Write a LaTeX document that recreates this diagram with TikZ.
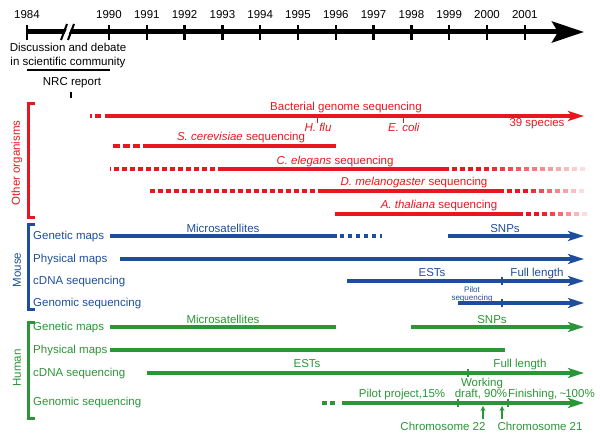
\documentclass[tikz,border=0pt]{standalone}
\usepackage{fontspec}
\setmainfont{Liberation Sans}
\usetikzlibrary{arrows.meta}
\definecolor{ored}{RGB}{232,22,30}
\definecolor{mblue}{RGB}{30,78,155}
\definecolor{hgreen}{RGB}{42,150,55}
\newcommand{\fadedash}[4]{% color, y, x0, n
  \foreach \i in {0,...,#4}{%
    \pgfmathsetmacro\xa{#3+\i*8}%
    \pgfmathsetmacro\op{min(1,1.25-1.1*\i/#4)}%
    \draw[#1,line width=3.3pt,opacity=\op] (\xa,#2) -- ++(5,0);}}
\begin{document}
\begin{tikzpicture}[x=1pt,y=-1pt,
  every node/.style={inner sep=0pt,font=\fontsize{11.5}{13}\selectfont},
  lbl/.style={anchor=base},
  rowlbl/.style={anchor=base west},
  small/.style={anchor=base,font=\fontsize{8}{9}\selectfont},
  row/.style={line width=3.3pt},
  rowarrow/.style={line width=3.3pt,-{Stealth[length=16pt,width=10pt,inset=4pt]}},
  dsh/.style={line width=3.3pt,dash pattern=on 5pt off 3pt},
  tk/.style={line width=2.5pt},
  bracket/.style={line width=3pt}]
\useasboundingbox (0,0) rectangle (600,438);

% ---------- time axis ----------
\draw[line width=5pt,-{Stealth[length=32pt,width=21pt,inset=6pt]}] (27,32) -- (584,32);
\fill[white] (62,40) -- (69,24) -- (73,24) -- (66,40) -- cycle;
\draw[line width=2pt] (61,40) -- (67,24);
\draw[line width=2pt] (68,40) -- (74,24);
\draw[tk] (27,25) -- (27,40);
\node[lbl] (y1984) at (27,19) {1984};
\foreach \yr [count=\k from 0] in {1990,...,2001}{
  \pgfmathsetmacro\xx{109+\k*37.8}
  \draw[tk] (\xx,25) -- (\xx,40);
  \node[lbl] (y\yr) at (\xx,19) {\yr};
}
\node[lbl] (disc1) at (68,52) {Discussion and debate};
\node[lbl] (disc2) at (68,66) {in scientific community};
\draw[line width=2pt] (27,70.5) -- (110,70.5);
\node[lbl] (nrc) at (72,86) {NRC report};
\draw[tk] (71,92) -- (71,98);

% ---------- other organisms ----------
\begin{scope}[ored]
\draw[bracket] (35,104) -- (28,104) -- (28,218) -- (35,218);
\node[rotate=90] (oth) at (17,163) {Other organisms};
% bacterial
\draw[line width=3.3pt] (90,116) -- (92,116);
\draw[line width=3.3pt] (95,116) -- (101,116);
\draw[rowarrow] (105,116) -- (584,116);
\node[lbl] (bact) at (346,111) {Bacterial genome sequencing};
\draw[line width=1pt] (317,116) -- (317,123);
\draw[line width=1pt] (403,116) -- (403,123);
\node[lbl] (hflu) at (318,132) {\textit{H. flu}};
\node[lbl] (ecoli) at (404,132) {\textit{E. coli}};
\node[lbl] (sp39) at (537,127) {39 species};
% S. cerevisiae
\draw[line width=3.3pt,dash pattern=on 7pt off 3pt] (113,146) -- (140,146);
\draw[row] (143,146) -- (336,146);
\node[lbl] (scer) at (241,141) {\textit{S. cerevisiae} sequencing};
% C. elegans
\draw[line width=3.3pt] (110,169) -- (111,169);
\draw[dsh] (114,169) -- (215,169);
\draw[row] (218,169) -- (449,169);
\fadedash{ored}{169}{452}{16}
\node[lbl] (cele) at (335,165) {\textit{C. elegans} sequencing};
% D. melanogaster
\draw[dsh] (150,191) -- (317,191);
\draw[row] (318,191) -- (504,191);
\fadedash{ored}{191}{507}{9}
\node[lbl] (dmel) at (414,186) {\textit{D. melanogaster} sequencing};
% A. thaliana
\draw[row] (335,214) -- (523,214);
\fadedash{ored}{214}{526}{7}
\node[lbl] (atha) at (439,209) {\textit{A. thaliana} sequencing};
\end{scope}

% ---------- mouse ----------
\begin{scope}[mblue]
\draw[bracket] (35,225) -- (28,225) -- (28,310) -- (35,310);
\node[rotate=90] (mouse) at (17,270) {Mouse};
\node[rowlbl] (mgen) at (33,240) {Genetic maps};
\node[rowlbl] (mphy) at (33,263) {Physical maps};
\node[rowlbl] (mcdna) at (33,285) {cDNA sequencing};
\node[rowlbl] (mgnm) at (33,307) {Genomic sequencing};
\draw[row] (110,236) -- (337,236);
\draw[line width=3.3pt,dash pattern=on 4pt off 4pt] (340,236) -- (382,236);
\node[lbl] (mmic) at (223,233) {Microsatellites};
\draw[rowarrow] (448,236) -- (584,236);
\node[lbl] (msnp) at (505,233) {SNPs};
\draw[rowarrow] (120,259) -- (584,259);
\draw[rowarrow] (347,281) -- (584,281);
\draw[tk] (502,277) -- (502,285);
\node[lbl] (mest) at (432,277) {ESTs};
\node[lbl] (mfull) at (537,277) {Full length};
\draw[rowarrow] (458,303) -- (584,303);
\draw[tk] (502,299) -- (502,307);
\node[small] (pil1) at (472,293) {Pilot};
\node[small] (pil2) at (472,300.5) {sequencing};
\end{scope}

% ---------- human ----------
\begin{scope}[hgreen]
\draw[bracket] (35,323) -- (28,323) -- (28,418) -- (35,418);
\node[rotate=90] (human) at (17,368) {Human};
\node[rowlbl] (hgen) at (33,331) {Genetic maps};
\node[rowlbl] (hphy) at (33,354) {Physical maps};
\node[rowlbl] (hcdna) at (33,377) {cDNA sequencing};
\node[rowlbl] (hgnm) at (33,406) {Genomic sequencing};
\draw[row] (110,327) -- (336,327);
\node[lbl] (hmic) at (223,324) {Microsatellites};
\draw[rowarrow] (411,327) -- (584,327);
\node[lbl] (hsnp) at (492,324) {SNPs};
\draw[row] (110,350) -- (505,350);
\draw[rowarrow] (147,373) -- (584,373);
\draw[tk] (468,369) -- (468,377);
\node[lbl] (hest) at (307,367) {ESTs};
\node[lbl] (hfull) at (520,367) {Full length};
\draw[line width=3.3pt,dash pattern=on 5pt off 3pt] (322,403) -- (338,403);
\draw[rowarrow] (342,403) -- (584,403);
\draw[tk] (458,399) -- (458,407);
\draw[tk] (508,399) -- (508,407);
\node[lbl] (pilot) at (402,398) {Pilot project,15\%};
\node[lbl] (work) at (482,387) {Working};
\node[lbl] (draft) at (481,398) {draft, 90\%};
\node[anchor=base west] (fin) at (508,398) {Finishing, \kern-1pt\textasciitilde\kern-1pt100\%};
\node[lbl] (chr22) at (443,430) {Chromosome 22};
\node[lbl] (chr21) at (540,430) {Chromosome 21};
\coordinate (a22) at (483,406);
\coordinate (a21) at (502,406);
\draw[line width=1.2pt,-{Stealth[length=5pt,width=5pt]}] (483,419) -- (a22);
\draw[line width=1.2pt,-{Stealth[length=5pt,width=5pt]}] (502,419) -- (a21);
\end{scope}
\end{tikzpicture}
\end{document}
